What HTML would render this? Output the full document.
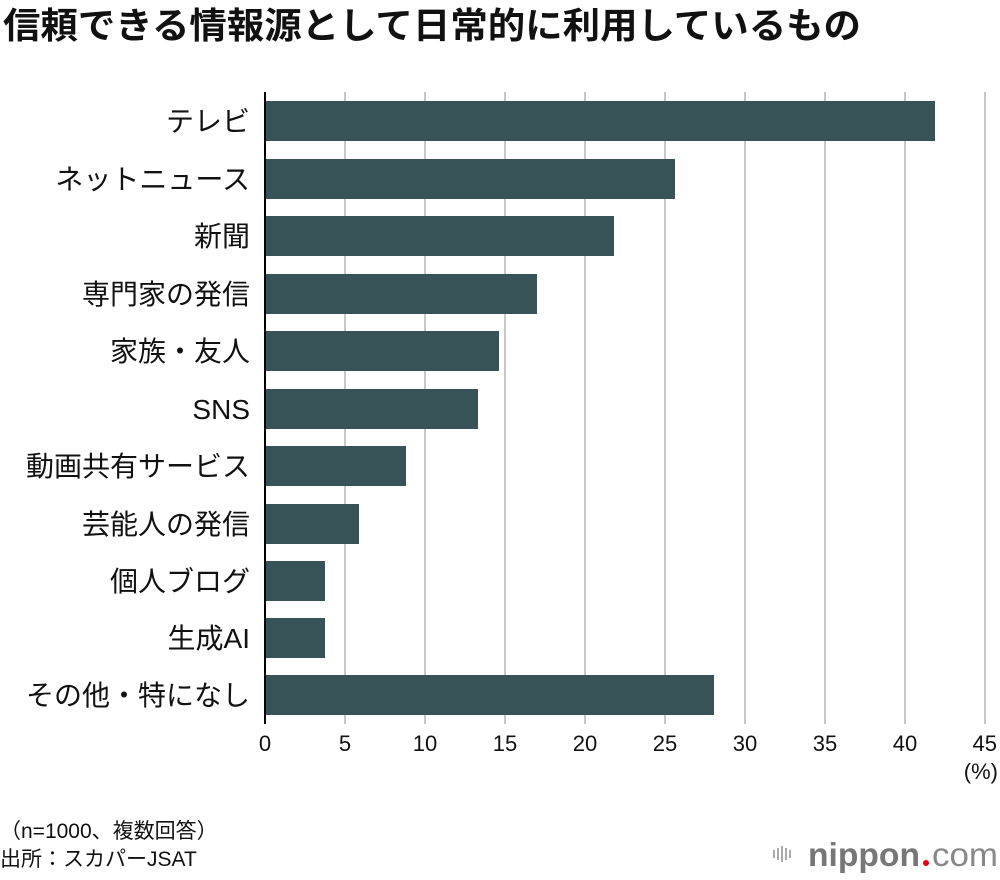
<!DOCTYPE html>
<html><head><meta charset="utf-8"><style>
body{margin:0;background:#fff;}
svg{display:block;font-family:"Liberation Sans","Noto Sans CJK JP",sans-serif;}
</style></head><body>
<svg width="1000" height="880" viewBox="0 0 1000 880">
<text x="3" y="38" font-size="36" font-weight="bold" fill="#111" textLength="858" lengthAdjust="spacingAndGlyphs">信頼できる情報源として日常的に利用しているもの</text>
<g stroke="#c8c8c8" stroke-width="2">
<line x1="345" y1="92" x2="345" y2="724"/><line x1="425" y1="92" x2="425" y2="724"/>
<line x1="505" y1="92" x2="505" y2="724"/><line x1="585" y1="92" x2="585" y2="724"/>
<line x1="665" y1="92" x2="665" y2="724"/><line x1="745" y1="92" x2="745" y2="724"/>
<line x1="825" y1="92" x2="825" y2="724"/><line x1="905" y1="92" x2="905" y2="724"/>
<line x1="985" y1="92" x2="985" y2="724"/>
</g>
<g fill="#375357">
<rect x="266" y="101" width="669" height="40"/>
<rect x="266" y="159" width="409" height="40"/>
<rect x="266" y="216" width="348" height="40"/>
<rect x="266" y="274" width="271" height="40"/>
<rect x="266" y="331" width="233" height="40"/>
<rect x="266" y="389" width="212" height="40"/>
<rect x="266" y="446" width="140" height="40"/>
<rect x="266" y="504" width="93" height="40"/>
<rect x="266" y="561" width="59" height="40"/>
<rect x="266" y="618" width="59" height="40"/>
<rect x="266" y="675" width="448" height="40"/>
</g>
<line x1="265" y1="92" x2="265" y2="724" stroke="#000" stroke-width="2"/>
<g font-size="28" text-anchor="end" fill="#111">
<text x="250" y="131">テレビ</text>
<text x="250" y="189">ネットニュース</text>
<text x="250" y="246">新聞</text>
<text x="250" y="304">専門家の発信</text>
<text x="250" y="361">家族・友人</text>
<text x="250" y="419">SNS</text>
<text x="250" y="476">動画共有サービス</text>
<text x="250" y="534">芸能人の発信</text>
<text x="250" y="591">個人ブログ</text>
<text x="250" y="648">生成AI</text>
<text x="250" y="705">その他・特になし</text>
</g>
<g font-size="22" text-anchor="middle" fill="#111">
<text x="265" y="751">0</text><text x="345" y="751">5</text><text x="425" y="751">10</text>
<text x="505" y="751">15</text><text x="585" y="751">20</text><text x="665" y="751">25</text>
<text x="745" y="751">30</text><text x="825" y="751">35</text><text x="905" y="751">40</text>
<text x="997" y="751" text-anchor="end">45</text>
<text x="998" y="779" text-anchor="end">(%)</text>
</g>
<text x="0" y="838" font-size="21" fill="#111">（n=1000、複数回答）</text>
<text x="0" y="866" font-size="21" fill="#111">出所：スカパーJSAT</text>
<g fill="#aaa"><rect x="773" y="850" width="2" height="8"/><rect x="777" y="848" width="2" height="12"/><rect x="781" y="846" width="2" height="16"/><rect x="785" y="848" width="2" height="12"/><rect x="789" y="850" width="2" height="8"/></g>
<text x="808" y="866" font-size="33" font-weight="bold" fill="#777" textLength="112" lengthAdjust="spacingAndGlyphs">nippon</text>
<circle cx="926" cy="863" r="3" fill="#e60012"/>
<text x="932" y="866" font-size="33" fill="#888" textLength="66" lengthAdjust="spacingAndGlyphs">com</text>
</svg>
</body></html>
